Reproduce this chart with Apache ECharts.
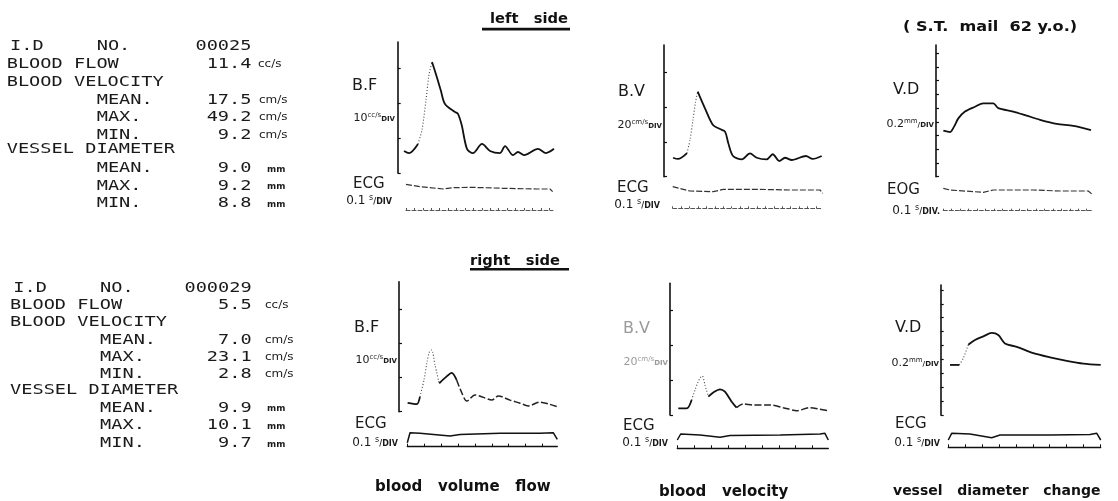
<!DOCTYPE html>
<html><head><meta charset="utf-8">
<script src="https://cdn.jsdelivr.net/npm/echarts@6/dist/echarts.min.js"></script>
<style>html,body{margin:0;padding:0;background:#fff}#c{width:1118px;height:501px}</style>
</head><body><div id="c"></div>
<script>
// ---------------- DATA ----------------
// waveform traces: time (s) / value (physical units)
const leftBFTime  = [0.075,0.134,0.241,0.288,0.336,0.371,0.407,0.463,0.510,0.561,0.680,0.715,0.759,0.822,0.893,1.000,1.095,1.214,1.273,1.368,1.427,1.498,1.664,1.759,1.854];
const leftBFValue = [6.3,5.7,8.3,12.3,20.9,28.0,31.7,27.5,23.7,19.7,17.4,16.9,13.7,6.9,5.7,8.3,6.3,5.7,7.7,5.1,6.0,5.1,6.9,5.7,6.9];
const leftBVTime  = [0.107,0.166,0.273,0.308,0.344,0.374,0.400,0.486,0.581,0.664,0.724,0.763,0.819,0.922,1.020,1.100,1.218,1.290,1.368,1.436,1.515,1.684,1.764,1.871];
const leftBVValue = [10.9,10.2,13.6,21.1,32.6,42.9,48.9,39.3,29.7,27.4,25.9,19.2,11.9,10.0,13.4,10.9,10.0,12.9,9.0,10.9,9.6,11.9,10.2,11.9];
const leftVDTime  = [0.087,0.166,0.214,0.265,0.344,0.463,0.561,0.680,0.739,0.917,1.076,1.234,1.432,1.629,1.839];
const leftVDValue = [8.87,8.85,8.93,9.05,9.15,9.22,9.27,9.27,9.20,9.15,9.09,9.03,8.97,8.94,8.88];
const rightBFTime  = [0.051,0.105,0.124,0.148,0.166,0.180,0.193,0.213,0.238,0.272,0.312,0.341,0.371,0.401,0.450,0.499,0.549,0.588,0.657,0.716,0.765,0.834,0.883,0.933];
const rightBFValue = [2.6,2.2,4.4,9.3,14.6,17.5,18.1,13.7,8.3,9.9,11.4,9.3,5.6,3.1,4.9,4.2,3.4,4.6,3.4,2.5,1.7,2.8,2.3,1.5];
const rightBVTime  = [0.049,0.099,0.128,0.148,0.166,0.180,0.191,0.207,0.227,0.260,0.296,0.325,0.365,0.394,0.434,0.493,0.592,0.670,0.750,0.828,0.888,0.931];
const rightBVValue = [3.8,3.8,8.6,14.3,18.9,21.4,22.3,17.1,10.5,13.1,14.7,13.3,7.6,4.2,6.3,5.7,5.7,4.2,2.5,4.2,3.3,2.5];
const rightVDTime  = [0.055,0.110,0.134,0.163,0.203,0.252,0.302,0.341,0.380,0.450,0.548,0.647,0.746,0.844,0.947];
const rightVDValue = [9.72,9.72,9.82,10.01,10.08,10.13,10.18,10.15,10.03,9.98,9.89,9.83,9.78,9.74,9.72];
// ECG traces
const ecgLBFTime = [0,0.166,0.442,0.561,0.759,1.154,1.550,1.708,1.740];
const ecgLBFValue = [2.57,2.33,2.10,2.23,2.27,2.17,2.10,2.10,1.83];
const ecgLBVTime = [0,0.205,0.482,0.600,0.996,1.391,1.747,1.779];
const ecgLBVValue = [2.16,1.73,1.66,1.90,1.90,1.83,1.83,1.50];
const ecgLVDTime = [0,0.079,0.474,0.593,1.068,1.384,1.720,1.760];
const ecgLVDValue = [2.24,2.07,1.84,2.07,2.07,1.97,1.97,1.67];
const ecgRBFTime = [0,0.016,0.075,0.253,0.312,0.549,0.785,0.864,0.888];
const ecgRBFValue = [0.40,1.40,1.34,1.07,1.22,1.34,1.34,1.40,0.74];
const ecgRBVTime = [0,0.020,0.134,0.253,0.312,0.608,0.844,0.873,0.893];
const ecgRBVValue = [0.83,1.43,1.33,1.10,1.28,1.33,1.43,1.50,0.83];
const ecgRVDTime = [0,0.020,0.128,0.257,0.306,0.602,0.839,0.879,0.902];
const ecgRVDValue = [0.73,1.40,1.33,0.96,1.23,1.23,1.28,1.40,0.73];
// text content
const statLabelsA = ['I.D','BLOOD FLOW','BLOOD VELOCITY','','','','VESSEL DIAMETER','','',''];
const statLabelsB = ['NO.','','','MEAN.','MAX.','MIN.','','MEAN.','MAX.','MIN.'];
const statUnits   = ['','cc/s','','cm/s','cm/s','cm/s','','mm','mm','mm'];
const leftStats  = ['00025','11.4','','17.5','49.2','9.2','','9.0','9.2','8.8'];
const rightStats = ['000029','5.5','','7.0','23.1','2.8','','9.9','10.1','9.7'];
const axisNames  = ['B.F','B.V','V.D'];
const scaleNums  = ['10','20','0.2'];
const scaleUnits = ['cc/s','cm/s','mm'];
const ecgNames   = ['ECG','ECG','EOG','ECG','ECG','ECG'];
const ecgScaleNum = '0.1';
const sideTitles = ['left   side','right   side'];
const patientLabel = '( S.T.  mail  62 y.o.)';
const bottomTitles = ['blood   volume   flow','blood   velocity','vessel   diameter   change'];

// ---------------- LAYOUT / STYLE ----------------
const panels = [
 {t:leftBFTime,v:leftBFValue,g:[397.7,42,156.3,131],xMax:1.854,yMin:0,yMax:37.4,yInt:10,segs:[[0,2,'s'],[2,6,'d'],[6,24,'s']],
  e:{t:ecgLBFTime,v:ecgLBFValue,g:[406,180,147],xMax:1.744,side:'L'}, kind:0,
  nameXY:[352,86], scaleR:[395,118.5], ecgXY:[353,184.3], ecgScaleR:[392,201], ecgTail:'/DIV', faded:false},
 {t:leftBVTime,v:leftBVValue,g:[664,45,157.7,131.7],xMax:1.871,yMin:0,yMax:75.7,yInt:20,segs:[[0,2,'s'],[2,6,'d'],[6,23,'s']],
  e:{t:ecgLBVTime,v:ecgLBVValue,g:[672.7,178.3,150],xMax:1.779,side:'L'}, kind:1,
  nameXY:[618,91.7], scaleR:[662,125], ecgXY:[617,188.3], ecgScaleR:[660,205], ecgTail:'/DIV', faded:false},
 {t:leftVDTime,v:leftVDValue,g:[936,45,155.7,131.7],xMax:1.847,yMin:8.2,yMax:10.12,yInt:0.2,segs:[[0,14,'s']],
  e:{t:ecgLVDTime,v:ecgLVDValue,g:[943.3,180.7,148.4],xMax:1.760,side:'L'}, kind:2,
  nameXY:[893,90], scaleR:[934,124], ecgXY:[887,190], ecgScaleR:[940,210.7], ecgTail:'/DIV.', faded:false},
 {t:rightBFTime,v:rightBFValue,g:[399,281.7,157.7,130],xMax:0.933,yMin:0,yMax:38.1,yInt:10,segs:[[0,2,'s'],[2,8,'d'],[8,11,'s'],[11,23,'a']],
  e:{t:ecgRBFTime,v:ecgRBFValue,g:[407.3,416.7,150],xMax:0.888,side:'R'}, kind:0,
  nameXY:[354,327.7], scaleR:[397,360], ecgXY:[355,424.3], ecgScaleR:[398,442.7], ecgTail:'/DIV', faded:false},
 {t:rightBVTime,v:rightBVValue,g:[670,283.3,157.3,131.7],xMax:0.931,yMin:0,yMax:75.3,yInt:20,segs:[[0,2,'s'],[2,8,'d'],[8,13,'s'],[13,21,'a']],
  e:{t:ecgRBVTime,v:ecgRBVValue,g:[677.3,418.3,151],xMax:0.893,side:'R'}, kind:1,
  nameXY:[623,329], scaleR:[668,361.7], ecgXY:[623,426], ecgScaleR:[668,443.3], ecgTail:'/DIV', faded:true},
 {t:rightVDTime,v:rightVDValue,g:[940.7,285,160,130],xMax:0.947,yMin:9.0,yMax:10.87,yInt:0.2,segs:[[0,1,'s'],[1,3,'d'],[3,14,'s']],
  e:{t:ecgRVDTime,v:ecgRVDValue,g:[948.3,417.3,152.4],xMax:0.902,side:'R'}, kind:2,
  nameXY:[895,328.3], scaleR:[939,362.7], ecgXY:[895,424], ecgScaleR:[940,443.3], ecgTail:'/DIV', faded:false}
];
const segStyle = {
  s:{color:'#111',width:1.8,type:'solid'},
  d:{color:'#444',width:1.1,type:[1,2]},
  a:{color:'#222',width:1.5,type:[7,2.5]}
};

function ticks(min,max,step){const o=[];for(let k=0;;k++){const v=+(min+k*step).toFixed(6);if(v>max-1e-6)break;o.push(v);}return o;}
const mctx=document.createElement('canvas').getContext('2d');
function tw(t,font){mctx.font=font;return mctx.measureText(t).width;}
function txt(x,y,text,font,fill,align,scaleX){
  return {type:'text',x:x,y:y,scaleX:scaleX||1,scaleY:1,silent:true,z:10,
    style:{text:text,font:font,fill:fill||'#1a1a1a',align:align||'left',textAlign:align||'left',verticalAlign:'middle',textVerticalAlign:'middle'}};
}
function pieces(xRight,y,parts,fill){
  const fonts=parts.map(p=>(p[2]||'normal')+' '+p[1]+'px "DejaVu Sans"');
  const ws=parts.map((p,i)=>tw(p[0],fonts[i]));
  let x=xRight-ws.reduce((a,b)=>a+b,0);
  const out=[];
  parts.forEach((p,i)=>{out.push(txt(x,y+(p[3]||0),p[0],fonts[i],fill));x+=ws[i];});
  return out;
}

const option={animation:false,backgroundColor:'#fff',grid:[],xAxis:[],yAxis:[],series:[],graphic:{elements:[]}};
const G=option.graphic.elements;

panels.forEach((p,i)=>{
  const wi=i*2, ei=i*2+1;
  option.grid.push({left:p.g[0],top:p.g[1],width:p.g[2],height:p.g[3],containLabel:false,outerBoundsMode:'none'});
  option.grid.push({left:p.e.g[0],top:p.e.g[1],width:p.e.g[2],height:30,containLabel:false,outerBoundsMode:'none'});
  option.xAxis.push({type:'value',gridIndex:wi,min:0,max:p.xMax,show:false});
  option.yAxis.push({type:'value',gridIndex:wi,min:p.yMin,max:p.yMax,interval:p.yInt,
    axisLine:{show:true,onZero:false,lineStyle:{color:'#111',width:1.6}},
    axisTick:{show:true,inside:true,length:3,customValues:ticks(p.yMin,p.yMax,p.yInt),lineStyle:{color:'#111',width:1.2}},
    axisLabel:{show:false},splitLine:{show:false}});
  const L=p.e.side==='L';
  option.xAxis.push({type:'value',gridIndex:ei,min:0,max:p.e.xMax,interval:0.1,position:'bottom',
    axisLine:{show:true,onZero:false,lineStyle:{color:L?'#555':'#111',width:L?1:1.3,type:L?[4,2]:'solid'}},
    axisTick:{show:true,inside:true,length:L?2:3,customValues:ticks(0,p.e.xMax+0.001,0.1),lineStyle:{color:L?'#555':'#111',width:1}},
    axisLabel:{show:false},splitLine:{show:false}});
  option.yAxis.push({type:'value',gridIndex:ei,min:0,max:3,show:false});
  p.segs.forEach(s=>{
    const data=[];for(let k=s[0];k<=s[1];k++)data.push([p.t[k],p.v[k]]);
    option.series.push({type:'line',xAxisIndex:wi,yAxisIndex:wi,data:data,symbol:'none',smooth:0.3,clip:false,silent:true,
      lineStyle:Object.assign({},segStyle[s[2]])});
  });
  option.series.push({type:'line',xAxisIndex:ei,yAxisIndex:ei,data:p.e.t.map((t,k)=>[t,p.e.v[k]]),symbol:'none',clip:false,silent:true,
    lineStyle:{color:L?'#333':'#111',width:L?1.2:1.5,type:L?[6,2]:'solid'}});
  // labels
  const fc=p.faded?'#9a9a9a':'#1a1a1a';
  G.push(txt(p.nameXY[0],p.nameXY[1],axisNames[p.kind],'normal 16px "DejaVu Sans"',fc));
  const tail=p.kind===2?'/DIV':'DIV';
  pieces(p.scaleR[0],p.scaleR[1],[[scaleNums[p.kind],11,'normal',0],[scaleUnits[p.kind],7,'normal',-3],[tail,7,'bold',1]],fc).forEach(e=>G.push(e));
  G.push(txt(p.ecgXY[0],p.ecgXY[1],ecgNames[i],'normal 15px "DejaVu Sans"','#1a1a1a'));
  pieces(p.ecgScaleR[0],p.ecgScaleR[1],[[ecgScaleNum+' ',12,'normal',0],['s',8,'normal',-3],[p.ecgTail,8,'bold',1]],'#1a1a1a').forEach(e=>G.push(e));
});

// stats blocks
const monoFont='normal 14px "DejaVu Sans Mono"';
const SX=1.33;
function statBlock(rowsY,colA,colAid,colB,valR,unitX,stats){
  rowsY.forEach((y,r)=>{
    if(statLabelsA[r])G.push(txt(r===0?colAid:colA,y,statLabelsA[r],monoFont,'#1a1a1a','left',SX));
    if(statLabelsB[r])G.push(txt(colB,y,statLabelsB[r],monoFont,'#1a1a1a','left',SX));
    if(stats[r])G.push(txt(valR,y,stats[r],monoFont,'#1a1a1a','right',SX));
    const u=statUnits[r];
    if(u){
      if(u==='mm')G.push(txt(unitX[2],y+1,u,'bold 8px "DejaVu Sans"','#1a1a1a','left',1.1));
      else G.push(txt(u==='cc/s'?unitX[0]:unitX[1],y,u,'normal 10px "DejaVu Sans"','#1a1a1a','left',1.2));
    }
  });
}
statBlock([46,64.5,82.2,100.3,117.8,135.3,149.5,168.8,186.2,203.8],6.7,10,96.7,251.5,[258,259,267],leftStats);
statBlock([288,305.5,322.8,340.5,357.5,374.7,390.5,408.3,425.8,443.5],10,13.3,100,251.7,[265,265,267],rightStats);

// titles
G.push(txt(490,19.5,sideTitles[0],'bold 14px "DejaVu Sans"','#111','left',1.05));
G.push({type:'rect',shape:{x:482,y:27.8,width:88,height:2.6},style:{fill:'#111'},silent:true});
G.push(txt(470,261.7,sideTitles[1],'bold 14px "DejaVu Sans"','#111','left',1.05));
G.push({type:'rect',shape:{x:470,y:268,width:99,height:2.6},style:{fill:'#111'},silent:true});
G.push(txt(903,27.5,patientLabel,'bold 14px "DejaVu Sans"','#111','left',1.15));
G.push(txt(375,487.3,bottomTitles[0],'bold 15px "DejaVu Sans"','#111'));
G.push(txt(659,491.7,bottomTitles[1],'bold 15px "DejaVu Sans"','#111'));
G.push(txt(893,491.7,bottomTitles[2],'bold 14px "DejaVu Sans"','#111'));

const chart=echarts.init(document.getElementById('c'),null,{renderer:'canvas',width:1118,height:501});
chart.setOption(option);
</script></body></html>
